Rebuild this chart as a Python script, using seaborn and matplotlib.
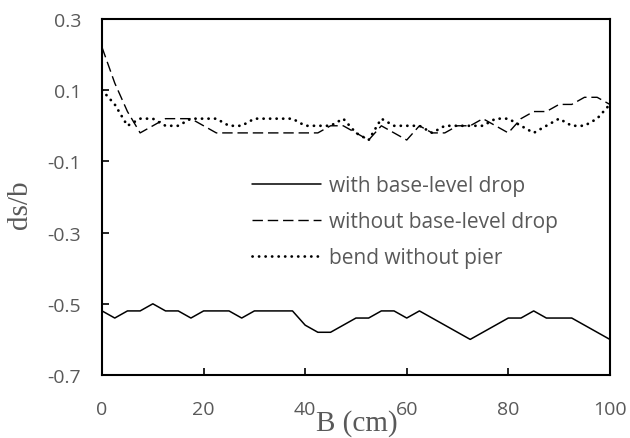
import matplotlib
matplotlib.use("Agg")
import matplotlib.pyplot as plt
import seaborn as sns
import pandas as pd

# ---- data ----
B_cm = [0, 2.5, 5, 7.5, 10, 12.5, 15, 17.5, 20, 22.5, 25, 27.5, 30, 32.5, 35, 37.5,
        40, 42.5, 45, 47.5, 50, 52.5, 55, 57.5, 60, 62.5, 65, 67.5, 70, 72.5, 75, 77.5,
        80, 82.5, 85, 87.5, 90, 92.5, 95, 97.5, 100]

with_drop = [-0.52, -0.54, -0.52, -0.52, -0.50, -0.52, -0.52, -0.54, -0.52, -0.52, -0.52,
             -0.54, -0.52, -0.52, -0.52, -0.52, -0.56, -0.58, -0.58, -0.56, -0.54, -0.54,
             -0.52, -0.52, -0.54, -0.52, -0.54, -0.56, -0.58, -0.60, -0.58, -0.56, -0.54,
             -0.54, -0.52, -0.54, -0.54, -0.54, -0.56, -0.58, -0.60]

without_drop = [0.22, 0.12, 0.04, -0.02, 0.00, 0.02, 0.02, 0.02, 0.00, -0.02, -0.02,
                -0.02, -0.02, -0.02, -0.02, -0.02, -0.02, -0.02, 0.00, 0.00, -0.02, -0.04,
                0.00, -0.02, -0.04, 0.00, -0.02, -0.02, 0.00, 0.00, 0.02, 0.00, -0.02,
                0.02, 0.04, 0.04, 0.06, 0.06, 0.08, 0.08, 0.06]

bend_no_pier = [0.10, 0.06, 0.00, 0.02, 0.02, 0.00, 0.00, 0.02, 0.02, 0.02, 0.00,
                0.00, 0.02, 0.02, 0.02, 0.02, 0.00, 0.00, 0.00, 0.02, -0.02, -0.04,
                0.02, 0.00, 0.00, 0.00, -0.02, 0.00, 0.00, 0.00, 0.00, 0.02, 0.02,
                0.00, -0.02, 0.00, 0.02, 0.00, 0.00, 0.02, 0.06]

series_labels = ["with base-level drop", "without base-level drop", "bend without pier"]
x_ticks = [0, 20, 40, 60, 80, 100]
y_ticks = [0.3, 0.1, -0.1, -0.3, -0.5, -0.7]
x_label = "B (cm)"
y_label = "ds/b"

# ---- style ----
sns.set_style("white")
plt.rcParams["font.family"] = ["Open Sans", "DejaVu Sans"]
plt.rcParams["axes.unicode_minus"] = False

grey = "#595959"

fig = plt.figure(figsize=(6.3, 4.39), dpi=100)
ax = fig.add_axes([0.162, 0.1435, 0.806, 0.811])

df = pd.DataFrame({"B": B_cm, "with": with_drop, "without": without_drop, "bend": bend_no_pier})

sns.lineplot(data=df, x="B", y="with", ax=ax, color="black", lw=1.1,
             label=series_labels[0])
sns.lineplot(data=df, x="B", y="without", ax=ax, color="black", lw=1.0,
             linestyle=(0, (7.5, 3.5)), label=series_labels[1])
sns.lineplot(data=df, x="B", y="bend", ax=ax, color="black", lw=2.0,
             linestyle=(0, (0.05, 2.3)), dash_capstyle="round", label=series_labels[2])

ax.set_xlim(0, 100)
ax.set_ylim(-0.7, 0.3)
ax.set_xticks(x_ticks)
ax.set_yticks(y_ticks)
ax.set_yticklabels([f"{v:.1f}" for v in y_ticks])
ax.set_xticklabels([str(v) for v in x_ticks])

for sp in ax.spines.values():
    sp.set_visible(True)
    sp.set_color("black")
    sp.set_linewidth(1.5)

ax.tick_params(axis="both", direction="in", length=5, width=1.2, color="black",
               labelsize=14, labelcolor=grey)
ax.tick_params(axis="x", pad=18, bottom=True, top=False)
ax.tick_params(axis="y", pad=15, left=True, right=False)

ax.set_xlabel(x_label, family="Liberation Serif", fontsize=21, color=grey)
ax.xaxis.set_label_coords(0.502, -0.095)
ax.set_ylabel(y_label, family="Liberation Serif", fontsize=21, color=grey)
ax.yaxis.set_label_coords(-0.136, 0.48)

leg = ax.legend(loc="center left", bbox_to_anchor=(0.295, 0.43), frameon=False,
                fontsize=15, handlelength=3.3, handletextpad=0.4, labelspacing=0.72,
                borderpad=0, borderaxespad=0)
for t in leg.get_texts():
    t.set_color(grey)

fig.savefig("out.png", dpi=100)
